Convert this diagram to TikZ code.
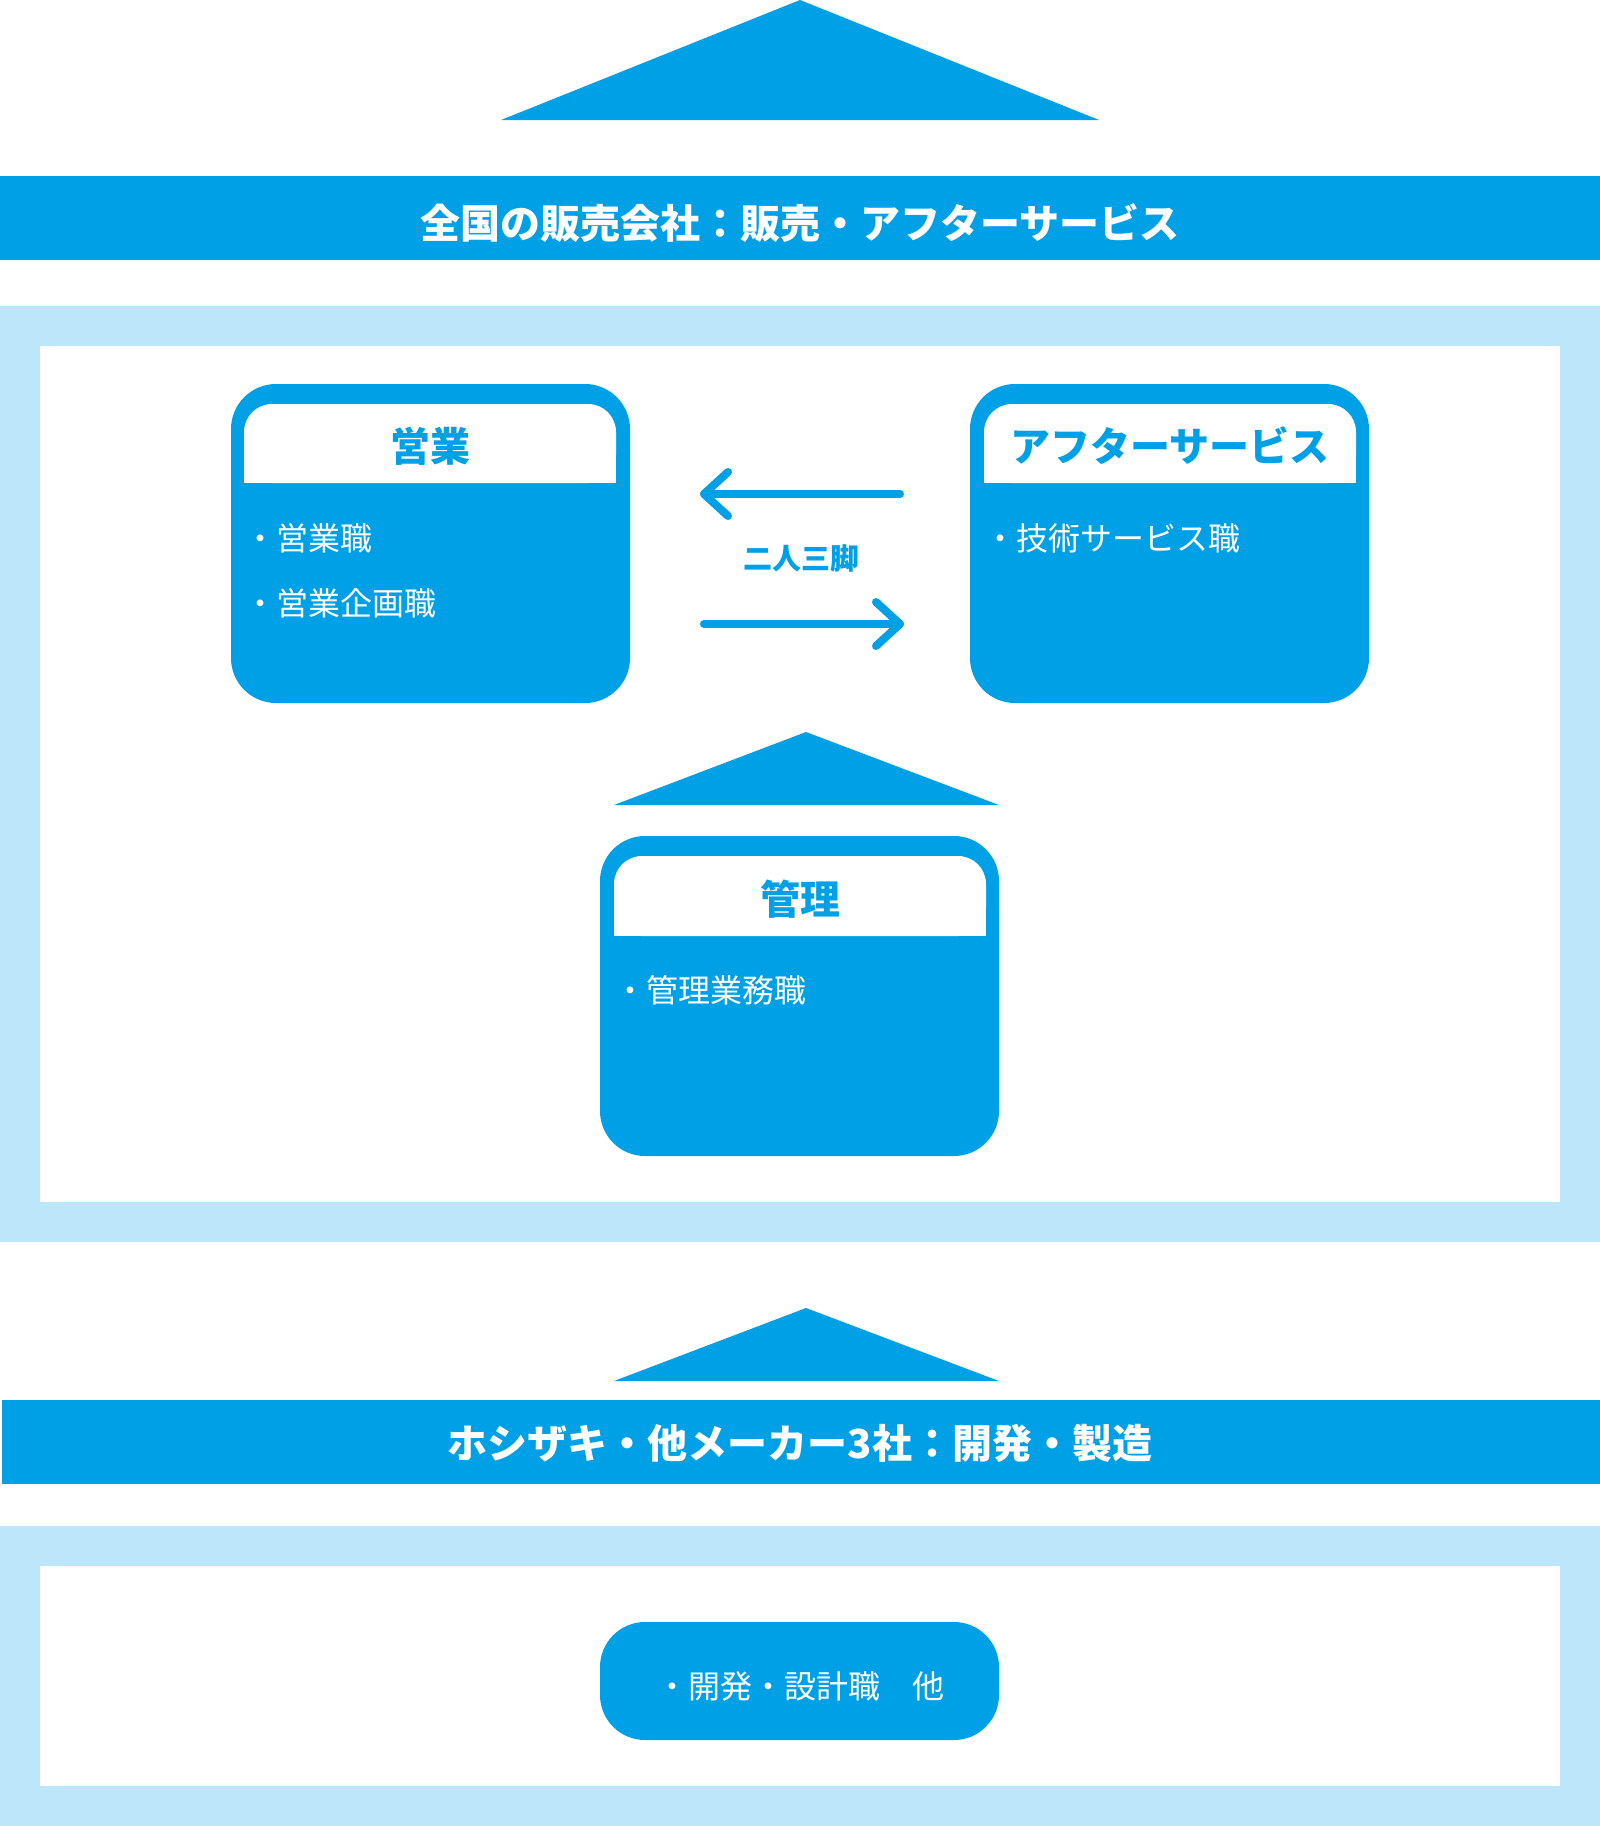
\documentclass[tikz,border=0pt]{standalone}
\usepackage{fontspec}
\setmainfont{Noto Sans CJK JP}
\usetikzlibrary{calc}
\definecolor{hblue}{RGB}{0,160,230}
\definecolor{hlight}{RGB}{190,230,250}
\tikzset{
  hd/.style={inner sep=0pt, text=hblue, font=\bfseries\fontsize{40pt}{42pt}\selectfont},
  bartext/.style={inner sep=0pt, text=white, font=\bfseries\fontsize{40pt}{42pt}\selectfont},
  item/.style={inner sep=0pt, anchor=west, text=white, font=\fontsize{32pt}{34pt}\selectfont},
  midtext/.style={inner sep=0pt, text=hblue, font=\bfseries\fontsize{29pt}{31pt}\selectfont},
  arr/.style={draw=hblue, line width=8pt, line cap=round, line join=round},
  tri/.style={fill=hblue},
  bodybox/.style={fill=hblue, rounded corners=45pt},
  headbox/.style={fill=white, rounded corners=28pt},
}
\begin{document}
\begin{tikzpicture}[x=1pt,y=-1pt]
\useasboundingbox (0,0) rectangle (1600,1826);
\fill[white] (0,0) rectangle (1600,1826);

% top triangle and bar
\fill[tri] (501,120) -- (800,0) -- (1099,120) -- cycle;
\fill[hblue] (0,176) rectangle (1600,260);
\node[bartext] (topbar) at (800,223) {全国の販売会社：販売・アフターサービス};

% frame 1
\fill[hlight] (0,306) rectangle (1600,1242);
\fill[white] (40,346) rectangle (1560,1202);

% 営業 box
\fill[bodybox] (231,384) rectangle (630,703);
\fill[headbox] (244,404) rectangle (616,483);
\fill[white] (244,455) rectangle (616,483);
\node[hd] (eigyoH) at (430,446) {営業};
\node[item] (eigyo1) at (244,538) {・営業職};
\node[item] (eigyo2) at (244,603) {・営業企画職};

% アフターサービス box
\fill[bodybox] (970,384) rectangle (1369,703);
\fill[headbox] (984,404) rectangle (1356,483);
\fill[white] (984,455) rectangle (1356,483);
\node[hd] (afterH) at (1170,446) {アフターサービス};
\node[item] (after1) at (984,538) {・技術サービス職};

% arrows
\coordinate (lA) at (900,494);
\coordinate (lB) at (704,494);
\coordinate (rA) at (704,624);
\coordinate (rB) at (900,624);
\draw[arr] (lA) -- (lB);
\draw[arr] ($(lB)+(24,-22)$) -- (lB) -- ($(lB)+(24,22)$);
\draw[arr] (rA) -- (rB);
\draw[arr] ($(rB)+(-24,-22)$) -- (rB) -- ($(rB)+(-24,22)$);
\node[midtext] (nininsankyaku) at (801,558) {二人三脚};

% middle triangle
\fill[tri] (614,805) -- (806,732) -- (999,805) -- cycle;

% 管理 box
\fill[bodybox] (600,836) rectangle (999,1156);
\fill[headbox] (614,856) rectangle (986,936);
\fill[white] (614,906) rectangle (986,936);
\node[hd] (kanriH) at (800,899) {管理};
\node[item] (kanri1) at (614,990) {・管理業務職};

% bottom triangle and bar
\fill[tri] (614,1381) -- (806,1308) -- (999,1381) -- cycle;
\fill[hblue] (2,1400) rectangle (1600,1484);
\node[bartext] (botbar) at (800,1443) {ホシザキ・他メーカー3社：開発・製造};

% frame 2
\fill[hlight] (0,1526) rectangle (1600,1826);
\fill[white] (40,1566) rectangle (1560,1786);
\fill[bodybox] (600,1622) rectangle (999,1740);
\node[inner sep=0pt, text=white, font=\fontsize{32pt}{34pt}\selectfont] (kaihatsu) at (800,1686) {・開発・設計職　他};
\end{tikzpicture}
\end{document}
